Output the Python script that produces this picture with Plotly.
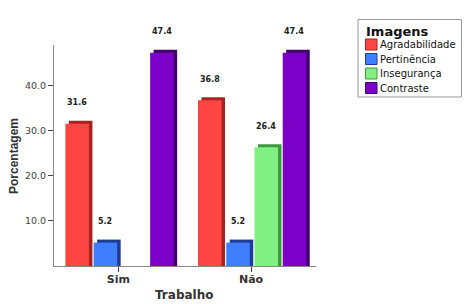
import plotly.graph_objects as go

categories = ["Sim", "Não"]
series = ["Agradabilidade", "Pertinência", "Insegurança", "Contraste"]
agradabilidade = [31.6, 36.8]
pertinencia = [5.2, 5.2]
inseguranca = [0, 26.4]
contraste = [47.4, 47.4]
y_ticks = [10, 20, 30, 40]

values = [agradabilidade, pertinencia, inseguranca, contraste]
front = ["#FF4444", "#3F7FFF", "#80F080", "#7B00C8"]
side = ["#A82222", "#1E3C94", "#3E9A3E", "#42006C"]

W, H = 465, 304
ML, MR, MT, MB = 54, 149, 45, 38
PW, PH = W - ML - MR, H - MT - MB


def px(x):
    return (x - ML) / PW


def py(y):
    return (H - MB - y) / PH


slot = 0.213
width = 0.1775
depth_x = 0.0264
depth_y = 0.67
start = -0.40

SANS = "DejaVu Sans, sans-serif"
ARIAL = "Liberation Sans, Arial, sans-serif"
fig = go.Figure()
xs = list(range(len(categories)))
annotations = []
for i, (name, vals) in enumerate(zip(series, values)):
    off = start + i * slot
    fig.add_bar(x=xs, y=[v + depth_y if v > 0 else None for v in vals], offset=off + depth_x,
                width=width, marker=dict(color=side[i], line_width=0),
                showlegend=False, hoverinfo="skip")
    fig.add_bar(x=xs, y=[v if v > 0 else None for v in vals], offset=off, width=width,
                name=name, showlegend=False,
                marker=dict(color=front[i], line=dict(width=0)))
    for j, v in enumerate(vals):
        if v > 0:
            annotations.append(dict(x=xs[j] + off + width / 2, y=v, xref="x", yref="y",
                                    text="<b>%.1f</b>" % v, showarrow=False, yshift=21,
                                    xanchor="center", yanchor="middle",
                                    font=dict(size=8, color="#222222", family=SANS)))

# axis titles
annotations.append(dict(x=px(184), y=py(295), xref="paper", yref="paper", text="<b>Trabalho</b>",
                        showarrow=False, xanchor="center", yanchor="middle",
                        font=dict(size=12, color="#333333", family=SANS)))
annotations.append(dict(x=px(14), y=py(156), xref="paper", yref="paper", text="<b>Porcentagem</b>",
                        showarrow=False, textangle=-90, xanchor="center", yanchor="middle",
                        font=dict(size=12, color="#333333", family=ARIAL)))

# legend (drawn)
shapes = [dict(type="rect", xref="paper", yref="paper", x0=px(358), x1=px(461.5), y0=py(19.5), y1=py(97),
               line=dict(color="#999999", width=1), fillcolor="white", layer="above")]
annotations.append(dict(x=px(364), y=py(32), xref="paper", yref="paper", text="<b>Imagens</b>",
                        showarrow=False, xanchor="left", yanchor="middle",
                        font=dict(size=13, color="#111111", family=SANS)))
for i, name in enumerate(series):
    cy = 44.5 + i * 14.5
    shapes.append(dict(type="rect", xref="paper", yref="paper", x0=px(365.5), x1=px(377),
                       y0=py(cy - 5.5), y1=py(cy + 5.5), fillcolor=front[i],
                       line=dict(color=side[i], width=1), layer="above"))
    annotations.append(dict(x=px(377.5), y=py(cy), xref="paper", yref="paper", text=name,
                            showarrow=False, xanchor="left", yanchor="middle",
                            font=dict(size=10, color="#111111", family=SANS)))

fig.update_layout(
    barmode="overlay",
    width=W, height=H,
    margin=dict(l=ML, r=MR, t=MT, b=MB, autoexpand=False),
    paper_bgcolor="white", plot_bgcolor="white",
    font=dict(family=SANS, color="#333333"),
    annotations=annotations,
    shapes=shapes,
    showlegend=False,
)
fig.update_xaxes(range=[-0.486, 1.49], tickvals=xs, ticktext=["<b>%s</b>" % c for c in categories],
                 tickfont=dict(size=11, color="#333333", family=SANS), ticks="outside", ticklen=5,
                 tickcolor="#444444", showline=True, linecolor="#888888", linewidth=1,
                 showgrid=False, zeroline=False, automargin=False, ticklabelstandoff=-2)
fig.update_yaxes(range=[0, 49.1], tickvals=y_ticks, ticktext=["%.1f" % t for t in y_ticks],
                 tickfont=dict(size=9.5, color="#444444", family=SANS), ticks="outside", ticklen=5,
                 tickcolor="#444444", showline=True, linecolor="#888888", linewidth=1,
                 showgrid=False, zeroline=False, automargin=False)

fig.write_html("out.html")
